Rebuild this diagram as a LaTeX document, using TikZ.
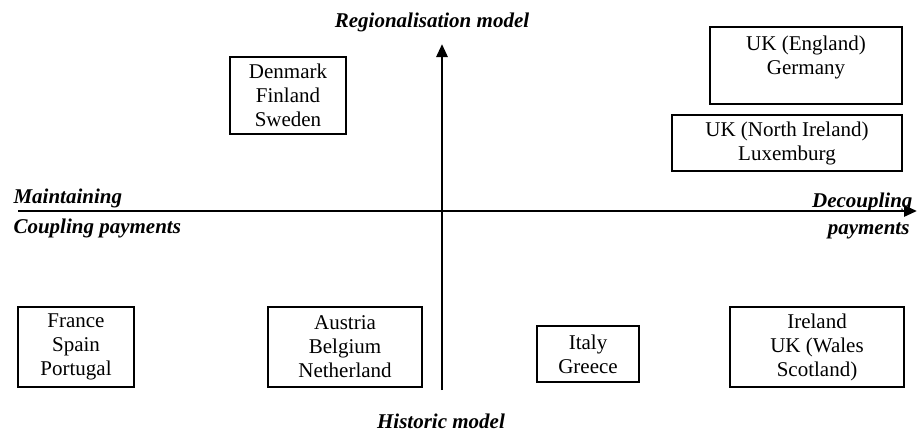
\documentclass[tikz,border=0pt]{standalone}
\usepackage{fontspec}
\setmainfont{Liberation Serif}
\usetikzlibrary{arrows.meta}

\tikzset{
	cbox/.style={draw, line width=1.3pt, align=center, inner sep=0pt},
	axlab/.style={font=\fontsize{21}{24}\selectfont\bfseries\itshape},
	axline/.style={line width=2.8pt, -{Triangle[length=13pt, width=11pt]}}
}

\begin{document}
\begin{tikzpicture}[x=1pt, y=-1pt, every node/.style={font=\fontsize{21}{24}\selectfont}]
\useasboundingbox (0,0) rectangle (917,434);

\pgfmathsetmacro{\axX}{442}
\pgfmathsetmacro{\axY}{211}

% axes
\coordinate (hL) at (18,\axY);
\coordinate (hR) at (917,\axY);
\coordinate (vB) at (\axX,390);
\coordinate (vT) at (\axX,44);
\draw[axline] (hL) -- (hR);
\draw[axline] (vB) -- (vT);

\node[axlab, anchor=base] (reg) at (432,27) {Regionalisation model};
\node[axlab, anchor=base] (hist) at (441,428) {Historic model};
\node[axlab, anchor=base west] (maint) at (10,203) {Maintaining};
\node[axlab, anchor=base west] (coupl) at (10,233) {Coupling payments};
\node[axlab, anchor=base east] (decoup) at (916,207) {Decoupling};
\node[axlab, anchor=base east] (paym) at (913,234) {payments};

% country boxes
\node[cbox, minimum width=116, minimum height=77] (nord) at (288,95.5) {Denmark\\Finland\\Sweden};
\node[cbox, minimum width=192, minimum height=77] (engl) at (806,65.5) {};
\node[align=center, inner sep=0pt, anchor=north] (englt) at ([yshift=-9pt]engl.north) {UK (England)\\Germany};
\node[cbox, minimum width=230, minimum height=56] (nirl) at (787,143) {UK (North Ireland)\\Luxemburg};
\node[cbox, minimum width=116, minimum height=80] (fran) at (76,347) {France\\Spain\\Portugal};
\node[cbox, minimum width=154, minimum height=80] (aust) at (345,347) {Austria\\Belgium\\Netherland};
\node[cbox, minimum width=102, minimum height=56] (ital) at (588,354) {Italy\\Greece};
\node[cbox, minimum width=174, minimum height=80] (irel) at (817,347) {Ireland\\UK (Wales\\Scotland)};
\end{tikzpicture}
\end{document}
